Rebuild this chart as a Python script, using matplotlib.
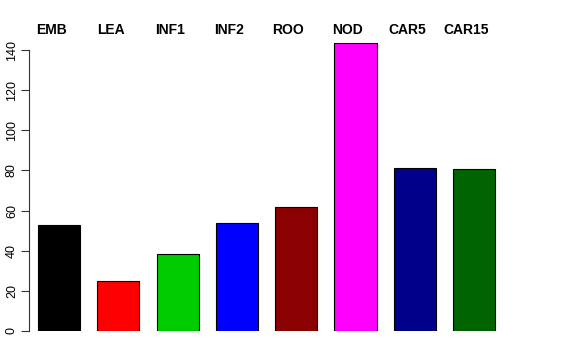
import matplotlib
matplotlib.use("Agg")
import matplotlib.pyplot as plt

categories = ["EMB", "LEA", "INF1", "INF2", "ROO", "NOD", "CAR5", "CAR15"]
values = [53, 25, 38.2, 53.7, 62, 143.5, 81.2, 80.8]
colors = ["#000000", "#FF0000", "#00CD00", "#0000FF", "#8B0000", "#FF00FF", "#00008B", "#006400"]
yticks = [0, 20, 40, 60, 80, 100, 120, 140]

plt.rcParams['font.family'] = ['Liberation Sans', 'DejaVu Sans']

W, H = 576, 360
fig = plt.figure(figsize=(W / 100, H / 100), dpi=100)
left_px, right_px = 29, 547
bottom_px, top_px = 331, 38
ax = fig.add_axes([left_px / W, 1 - bottom_px / H, (right_px - left_px) / W, (bottom_px - top_px) / H])

period = 59.3
x0_px = 59
xs = list(range(len(categories)))
ax.bar(xs, values, width=0.71, color=colors, edgecolor="#000000", linewidth=0.8)

ax.set_xlim(-(x0_px - left_px) / period, (right_px - x0_px) / period)
ax.set_ylim(0, (bottom_px - top_px) / 2.007)

for s in ["top", "right", "bottom"]:
    ax.spines[s].set_visible(False)
ax.spines["left"].set_bounds(0, 140)
ax.spines["left"].set_linewidth(0.8)
ax.spines["left"].set_color("#333333")
ax.set_xticks([])
ax.set_yticks(yticks)
ax.set_yticklabels([str(t) for t in yticks], rotation=90, va="center", fontsize=9)
ax.tick_params(axis="y", length=6, width=0.8, pad=2, color="#333333")

for x, c in zip(xs, categories):
    ax.text(x - 0.13, 150.2, c, ha="center", va="center", fontsize=10, fontweight="bold", clip_on=False)

fig.savefig("out.png", dpi=100)
